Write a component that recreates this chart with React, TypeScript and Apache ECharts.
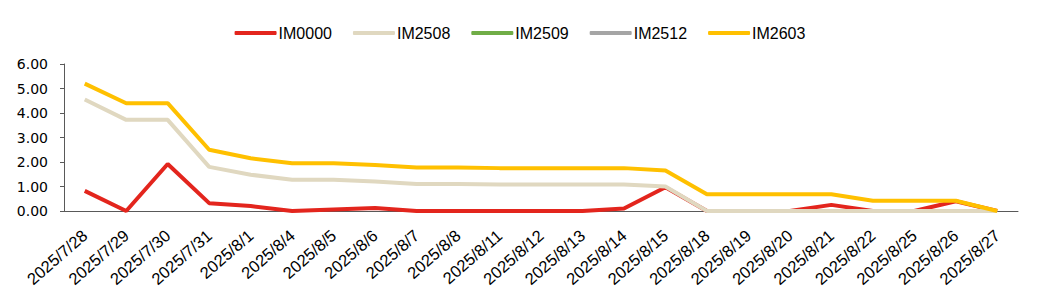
import React, { useEffect, useRef } from "react";
import * as echarts from "echarts";

const dates = [
  "2025/7/28", "2025/7/29", "2025/7/30", "2025/7/31", "2025/8/1", "2025/8/4",
  "2025/8/5", "2025/8/6", "2025/8/7", "2025/8/8", "2025/8/11", "2025/8/12",
  "2025/8/13", "2025/8/14", "2025/8/15", "2025/8/18", "2025/8/19", "2025/8/20",
  "2025/8/21", "2025/8/22", "2025/8/25", "2025/8/26", "2025/8/27",
];

const im0000 = [0.82, 0.0, 1.92, 0.32, 0.2, 0.0, 0.06, 0.12, 0.0, 0.0, 0.0, 0.0, 0.0, 0.1, 0.97, 0.0, 0.0, 0.0, 0.25, 0.0, 0.0, 0.4, 0.0];
const im2508 = [4.55, 3.72, 3.72, 1.8, 1.48, 1.28, 1.28, 1.2, 1.1, 1.1, 1.08, 1.08, 1.08, 1.08, 1.0, 0.0, 0.0, 0.0, 0.0, 0.0, 0.0, 0.0, 0.0];
const im2509: (number | null)[] = [];
const im2512: (number | null)[] = [];
const im2603 = [5.2, 4.4, 4.4, 2.5, 2.15, 1.95, 1.95, 1.88, 1.78, 1.78, 1.75, 1.75, 1.75, 1.75, 1.65, 0.68, 0.68, 0.68, 0.68, 0.42, 0.42, 0.42, 0.0];

const seriesNames = ["IM0000", "IM2508", "IM2509", "IM2512", "IM2603"];
const seriesData = [im0000, im2508, im2509, im2512, im2603];
const colors = ["#E3251D", "#E0D8C0", "#70AD47", "#A5A5A5", "#FFC000"];

const LEGEND_FONT = "'Liberation Sans', Arial, sans-serif";
const AXIS_FONT = "'DejaVu Sans', Verdana, sans-serif";

export default function App() {
  const ref = useRef<HTMLDivElement>(null);
  useEffect(() => {
    if (!ref.current) return;
    const chart = echarts.init(ref.current, null, { renderer: "svg" });
    chart.setOption({
      animation: false,
      color: colors,
      legend: {
        top: 12,
        left: "center",
        itemWidth: 42,
        itemHeight: 4,
        itemGap: 21,
        icon: "roundRect",
        textStyle: { fontSize: 16, color: "#000", fontFamily: LEGEND_FONT, padding: [0, 0, 0, -3] },
        data: seriesNames,
      },
      grid: { left: 56, right: 14, top: 56, bottom: 88, containLabel: false },
      xAxis: {
        type: "category",
        data: dates,
        boundaryGap: true,
        axisLine: { lineStyle: { color: "#595959", width: 1 } },
        axisTick: { inside: true, length: 5, lineStyle: { color: "#595959" } },
        axisLabel: { rotate: 41, interval: 0, fontSize: 16.5, color: "#000", margin: 22, fontFamily: LEGEND_FONT },
      },
      yAxis: {
        type: "value",
        min: 0,
        max: 6,
        interval: 1,
        splitLine: { show: false },
        axisLine: { show: true, lineStyle: { color: "#595959", width: 1 } },
        axisTick: { show: true, length: 4, lineStyle: { color: "#595959" } },
        axisLabel: {
          fontSize: 14,
          color: "#000",
          margin: 16,
          fontFamily: AXIS_FONT,
          formatter: (v: number) => v.toFixed(2),
        },
      },
      series: seriesNames.map((name, i) => ({
        name,
        type: "line",
        data: seriesData[i],
        showSymbol: false,
        symbol: "none",
        lineStyle: { width: 4, color: colors[i] },
        itemStyle: { color: colors[i] },
      })),
    });
    return () => chart.dispose();
  }, []);
  return <div ref={ref} style={{ width: 1024, height: 291 }} />;
}
